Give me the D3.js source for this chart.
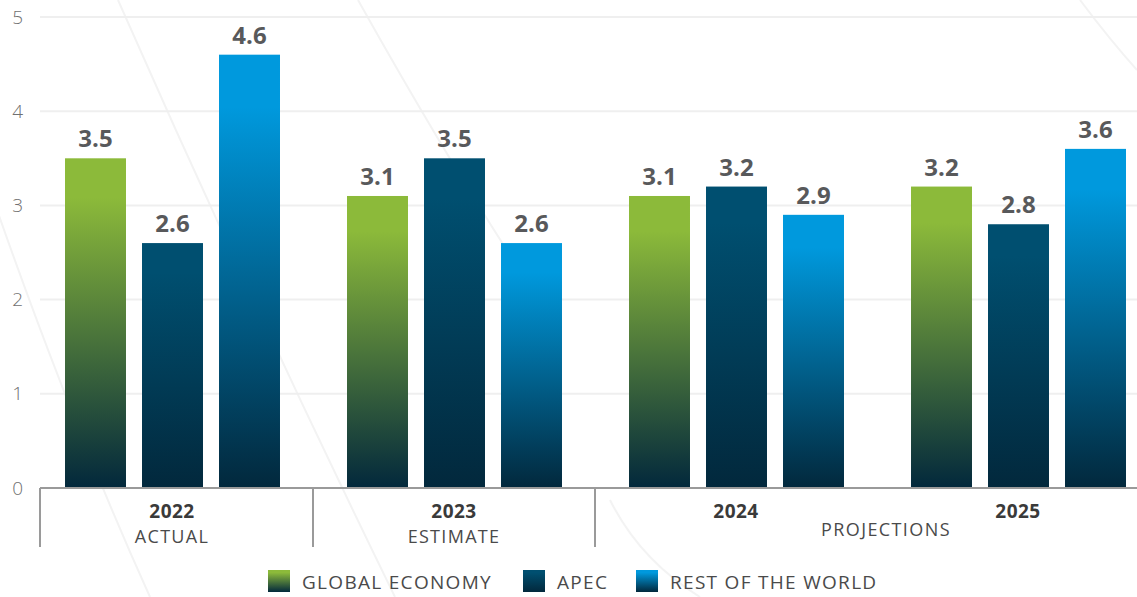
<!DOCTYPE html>
<html>
<head>
<meta charset="utf-8">
<script src="https://cdn.jsdelivr.net/npm/d3@7"></script>
<style>
  html, body { margin: 0; padding: 0; background: #ffffff; }
  svg { display: block; }
  text { font-family: "Open Sans", "Noto Sans", sans-serif; }
</style>
</head>
<body>
<svg id="chart" width="1137" height="597"></svg>
<script>
// Real GDP growth, %
const years = ["2022", "2023", "2024", "2025"];
const periodLabels = ["ACTUAL", "ESTIMATE", "", ""];
const seriesNames = ["GLOBAL ECONOMY", "APEC", "REST OF THE WORLD"];
const globalEconomy = [3.5, 3.1, 3.1, 3.2];
const apec = [2.6, 3.5, 3.2, 2.8];
const restOfWorld = [4.6, 2.6, 2.9, 3.6];
const yTicks = [0, 1, 2, 3, 4, 5];

const seriesValues = [globalEconomy, apec, restOfWorld];
const topColors = ["#8cba3a", "#004f70", "#0099dd"];
const baseColor = "#02283c";

const svg = d3.select("#chart");
const W = 1137;

// Decorative faint sweeping curves in the background
const bg = svg.append("g").attr("fill", "none").attr("stroke", "#f3f3f3").attr("stroke-width", 2);
const curves = [
  "M118,0 Q250,300 395,597",
  "M-10,190 Q70,420 150,597",
  "M358,0 Q470,200 560,330",
  "M1080,0 Q1110,40 1137,70",
  "M700,597 Q640,560 610,500"
];
bg.selectAll("path").data(curves).join("path").attr("d", d => d);

// Scales
const y = d3.scaleLinear().domain([0, 5]).range([488, 17]);
const x0 = d3.scaleBand().domain(years).range([31, 1159]).paddingInner(0).paddingOuter(0);
const x1 = d3.scaleBand().domain(d3.range(seriesNames.length)).range([26, 257])
  .paddingInner(0.208).paddingOuter(0.104);

// Gradients
const defs = svg.append("defs");
topColors.forEach((c, i) => {
  const g = defs.append("linearGradient").attr("id", "grad" + i)
    .attr("x1", 0).attr("y1", 0).attr("x2", 0).attr("y2", 1);
  g.append("stop").attr("offset", 0).attr("stop-color", c);
  g.append("stop").attr("offset", 0.12).attr("stop-color", c);
  g.append("stop").attr("offset", 1).attr("stop-color", baseColor);
});

// Gridlines
const grid = svg.append("g").attr("class", "grid");
grid.selectAll("line").data(yTicks.filter(d => d > 0)).join("line")
  .attr("x1", 40).attr("x2", W)
  .attr("y1", d => y(d)).attr("y2", d => y(d))
  .attr("stroke", "#efefef").attr("stroke-width", 2);

// Y-axis labels
const yAxis = d3.axisLeft(y).tickValues(yTicks).tickSize(0).tickPadding(0).tickFormat(d3.format("d"));
const ya = svg.append("g").attr("transform", "translate(23,0)").call(yAxis);
ya.select(".domain").remove();
ya.selectAll("text")
  .attr("font-family", "'Open Sans', sans-serif")
  .attr("font-size", 19).attr("font-weight", 300).attr("fill", "#707070").attr("text-anchor", "end")
  .attr("dy", "0.32em");

// Bars
const groups = svg.append("g").selectAll("g").data(years).join("g")
  .attr("transform", d => `translate(${x0(d)},0)`);

groups.each(function (yr, gi) {
  const g = d3.select(this);
  const vals = seriesValues.map((s, si) => ({ si, v: s[gi] }));
  g.selectAll("rect").data(vals).join("rect")
    .attr("x", d => x1(d.si))
    .attr("width", x1.bandwidth())
    .attr("y", d => y(d.v))
    .attr("height", d => y(0) - y(d.v))
    .attr("fill", d => `url(#grad${d.si})`);
  g.selectAll("text.val").data(vals).join("text")
    .attr("class", "val")
    .attr("x", d => x1(d.si) + x1.bandwidth() / 2)
    .attr("y", d => y(d.v) - 11)
    .attr("text-anchor", "middle")
    .attr("font-size", 24).attr("font-weight", 700).attr("fill", "#58595b")
    .text(d => d3.format(".1f")(d.v));
});

// Baseline and category separators
const axisG = svg.append("g");
axisG.append("line").attr("x1", 40).attr("x2", W).attr("y1", y(0)).attr("y2", y(0))
  .attr("stroke", "#9a9a9a").attr("stroke-width", 2);
const sepXs = [40, x0("2023"), x0("2024")];
axisG.selectAll("line.sep").data(sepXs).join("line").attr("class", "sep")
  .attr("x1", d => d).attr("x2", d => d)
  .attr("y1", y(0)).attr("y2", 547)
  .attr("stroke", "#9a9a9a").attr("stroke-width", 2);

// Category labels
axisG.selectAll("text.yr").data(years).join("text").attr("class", "yr")
  .attr("x", d => x0(d) + x0.bandwidth() / 2)
  .attr("y", 518)
  .attr("text-anchor", "middle")
  .attr("font-size", 19).attr("font-weight", 700).attr("letter-spacing", 0.5).attr("fill", "#3a3a3a")
  .text(d => d);
axisG.selectAll("text.per").data(years.filter((d, i) => periodLabels[i])).join("text").attr("class", "per")
  .attr("x", d => x0(d) + x0.bandwidth() / 2)
  .attr("y", 543)
  .attr("text-anchor", "middle")
  .attr("font-size", 18).attr("letter-spacing", 1.3).attr("fill", "#4a4a4a")
  .text(d => periodLabels[years.indexOf(d)]);
axisG.append("text")
  .attr("x", (x0("2024") + x0("2025") + x0.bandwidth()) / 2 + 9)
  .attr("y", 536)
  .attr("text-anchor", "middle")
  .attr("font-size", 18).attr("letter-spacing", 1.4).attr("fill", "#4a4a4a")
  .text("PROJECTIONS");

// Legend
const legendX = [268, 523, 636];
const legend = svg.append("g").selectAll("g").data(seriesNames).join("g")
  .attr("transform", (d, i) => `translate(${legendX[i]},570)`);
legend.append("rect").attr("width", 22).attr("height", 22)
  .attr("fill", (d, i) => `url(#grad${i})`);
legend.append("text").attr("x", 34).attr("y", 18.5)
  .attr("font-size", 19).attr("letter-spacing", 1.3).attr("fill", "#4a4a4a")
  .text(d => d);
</script>
</body>
</html>
